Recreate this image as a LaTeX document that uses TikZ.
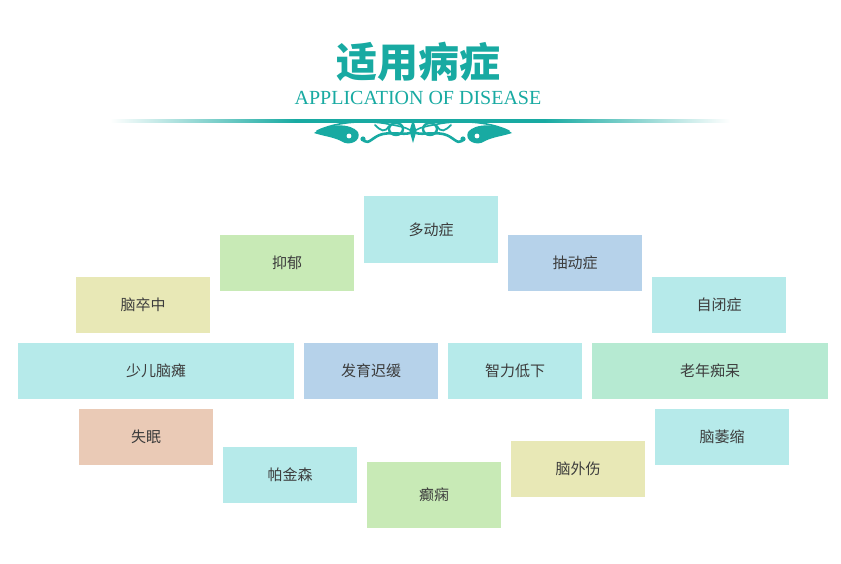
\documentclass[tikz,border=0pt]{standalone}
\usepackage{fontspec}
\setmainfont{Liberation Serif}
\newfontfamily\cjk{Noto Sans CJK SC}
\usetikzlibrary{positioning}
\definecolor{teal}{RGB}{24,170,162}
\definecolor{ccyan}{RGB}{182,234,234}
\definecolor{cgreen}{RGB}{200,234,182}
\definecolor{cyellow}{RGB}{232,232,182}
\definecolor{cblue}{RGB}{182,210,234}
\definecolor{cpeach}{RGB}{234,202,182}
\definecolor{cmint}{RGB}{182,234,210}
\definecolor{txt}{RGB}{60,60,60}
\pgfdeclarehorizontalshading{divline}{100bp}{color(0bp)=(white); color(25bp)=(white); color(40bp)=(teal); color(60bp)=(teal); color(75bp)=(white); color(100bp)=(white)}
\tikzset{
  dbox/.style={rectangle, inner sep=0pt, minimum width=134pt, minimum height=56pt,
    font=\cjk\fontsize{15}{18}\selectfont, text=txt},
  orn/.style={teal, line cap=round},
}
\newcommand\ornhalf{%
  \fill[teal] (-99,133) .. controls (-85,123) and (-62,123) .. (-55,132)
     .. controls (-51,141) and (-64,147) .. (-72,141)
     .. controls (-80,137) and (-90,136) .. cycle;
  \fill[white] (-64,136) circle (2.4);
  \draw[orn, line width=1.6pt] (-96,131) .. controls (-75,121) and (-45,120) .. (-25,124)
     .. controls (-15,126) and (-8,127) .. (-3,130);
  \draw[orn, line width=2.4pt] (-17,129) ellipse (7 and 6);
  \draw[orn, line width=2.6pt] (-49,141) .. controls (-44,145) and (-40,136) .. (-30,134)
     .. controls (-20,132) and (-10,135) .. (-3,133);
  \fill[teal] (-50,139) circle (2.6);
  \draw[orn, line width=1.8pt] (-38,125) .. controls (-32,131) and (-28,133) .. (-24,126);
}
\begin{document}
\begin{tikzpicture}[x=1pt,y=-1pt]
\useasboundingbox (0,0) rectangle (841,563);
\fill[white] (0,0) rectangle (841,563);
% header
\node[font=\cjk\bfseries\fontsize{41}{45}\selectfont, text=teal, inner sep=0pt] (title) at (418,62) {适用病症};
\node[font=\fontsize{20}{22}\selectfont, text=teal, inner sep=0pt, anchor=base] (sub) at (418,104) {APPLICATION OF DISEASE};
% divider line
\shade[shading=divline] (110,119.7) rectangle (730,122.5);
% ornament
\begin{scope}[shift={(413,0)}]
  \ornhalf
\end{scope}
\begin{scope}[shift={(413,0)}, xscale=-1]
  \ornhalf
\end{scope}
\fill[teal] (413,119) -- (416.5,131) -- (413,143) -- (409.5,131) -- cycle;
% boxes
\node[dbox, fill=ccyan, minimum height=67pt] (b1) at (431,229.5) {多动症};
\node[dbox, fill=cgreen] (b2) at (287,263) {抑郁};
\node[dbox, fill=cblue] (b3) at (575,263) {抽动症};
\node[dbox, fill=cyellow] (b4) at (143,305) {脑卒中};
\node[dbox, fill=ccyan] (b5) at (719,305) {自闭症};
\node[dbox, fill=ccyan, minimum width=276pt] (b6) at (156,371) {少儿脑瘫};
\node[dbox, fill=cblue] (b7) at (371,371) {发育迟缓};
\node[dbox, fill=ccyan] (b8) at (515,371) {智力低下};
\node[dbox, fill=cmint, minimum width=236pt] (b9) at (710,371) {老年痴呆};
\node[dbox, fill=cpeach] (b10) at (146,437) {失眠};
\node[dbox, fill=ccyan] (b11) at (290,475) {帕金森};
\node[dbox, fill=cgreen, minimum height=66pt] (b12) at (434,495) {癫痫};
\node[dbox, fill=cyellow] (b13) at (578,469) {脑外伤};
\node[dbox, fill=ccyan] (b14) at (722,437) {脑萎缩};
\end{tikzpicture}
\end{document}
